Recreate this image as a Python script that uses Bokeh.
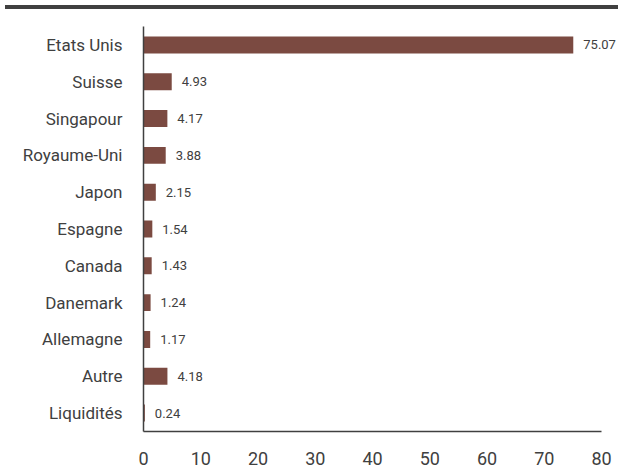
from bokeh.plotting import figure
from bokeh.models import ColumnDataSource, FactorRange, Range1d, FixedTicker, Div, LabelSet
from bokeh.layouts import column
from bokeh.core.properties import value
from bokeh.embed import file_html
from bokeh.resources import INLINE

countries = ["Etats Unis", "Suisse", "Singapour", "Royaume-Uni", "Japon", "Espagne",
             "Canada", "Danemark", "Allemagne", "Autre", "Liquidités"]
weights = [75.07, 4.93, 4.17, 3.88, 2.15, 1.54, 1.43, 1.24, 1.17, 4.18, 0.24]
x_ticks = [0, 10, 20, 30, 40, 50, 60, 70, 80]

FONT = "Roboto"
TXT = "#404040"
BAR = "#7b4a41"

W = 618
LEFT = 143
PX_PER_UNIT = 458 / 80.0
x_end = (W - LEFT) / PX_PER_UNIT

src = ColumnDataSource(dict(c=countries, v=weights, lab=[f"{w:.2f}" for w in weights]))

p = figure(width=W, height=453, output_backend="svg", toolbar_location=None,
           y_range=FactorRange(factors=list(reversed(countries))),
           x_range=Range1d(0, x_end))
p.min_border_left = LEFT
p.min_border_right = 0
p.min_border_top = 12
p.min_border_bottom = 34
p.outline_line_color = None
p.background_fill_color = "white"
p.border_fill_color = "white"

p.hbar(y="c", right="v", left=0, height=0.46, source=src, color=BAR, line_color=None)
labels = LabelSet(x="v", y="c", text="lab", source=src, x_offset=10, text_baseline="middle",
                  text_align="left", text_font=value(FONT), text_font_size="13px",
                  text_color=TXT)
p.add_layout(labels)

p.xgrid.grid_line_color = None
p.ygrid.grid_line_color = None

for ax in (p.xaxis[0], p.yaxis[0]):
    ax.axis_line_color = TXT
    ax.axis_line_width = 1.5
    ax.major_tick_line_color = None
    ax.minor_tick_line_color = None
    ax.major_label_text_font = FONT
    ax.major_label_text_color = TXT

p.xaxis[0].bounds = (0, 80)
p.yaxis[0].major_label_text_font_size = "17px"
p.xaxis[0].major_label_text_font_size = "18px"
p.xaxis[0].ticker = FixedTicker(ticks=x_ticks)
p.xaxis[0].major_label_standoff = 14
p.yaxis[0].major_label_standoff = 15

bar_line = Div(width=W, height=4, styles={"background-color": "#404040"})
layout = column(bar_line, p)

open("out.html", "w").write(file_html(layout, INLINE))
